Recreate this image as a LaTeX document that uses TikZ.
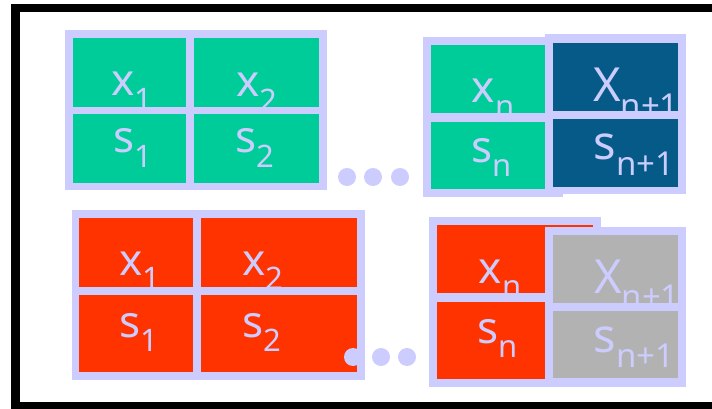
\documentclass[tikz,border=0pt]{standalone}
\usepackage{fontspec}
\setmainfont{Noto Sans}
\definecolor{lav}{RGB}{204,204,255}
\definecolor{grn}{RGB}{0,204,153}
\definecolor{blu}{RGB}{6,90,135}
\definecolor{rd}{RGB}{255,51,0}
\definecolor{gry}{RGB}{178,178,178}
\newcommand\sbs[1]{\raisebox{-0.32em}{\fontsize{31}{31}\selectfont #1}}
\newcommand\sbsb[1]{\raisebox{-0.32em}{\fontsize{33}{33}\selectfont #1}}
\tikzset{
  lbl/.style={text=lav, font=\fontsize{44}{44}\selectfont, inner sep=0pt, anchor=base},
  lblbig/.style={lbl, font=\fontsize{47}{47}\selectfont},
  dotc/.style={fill=lav},
}
\begin{document}
\begin{tikzpicture}[x=1pt,y=-1pt]
\useasboundingbox (0,0) rectangle (712,409);
\fill[white] (0,0) rectangle (712,409);
% frame
\draw[line width=8.5pt] (15.5,8) rectangle (740,406);

% ---------- top-left (green) ----------
\fill[lav] (65,30) rectangle (327,190);
\fill[grn] (73,38) rectangle (186,107);
\fill[grn] (194,38) rectangle (319,107);
\fill[grn] (73,114) rectangle (186,183);
\fill[grn] (194,114) rectangle (319,183);
\node[lbl] (tlx1) at (132,96) {x\sbs{1}};
\node[lbl] (tlx2) at (257,97) {x\sbs{2}};
\node[lbl] (tls1) at (133,153) {s\sbs{1}};
\node[lbl] (tls2) at (255,153) {s\sbs{2}};
\fill[lav] (65,107) rectangle (327,114);

% top dots
\fill[dotc] (347,177) circle[radius=9pt];
\fill[dotc] (373,177) circle[radius=9pt];
\fill[dotc] (400,177) circle[radius=9pt];

% ---------- top-right ----------
\fill[lav] (423,37) rectangle (563,197);
\fill[grn] (431,45) rectangle (555,113);
\fill[grn] (431,122) rectangle (555,189);
\node[lbl] (trxn) at (493,103) {x\sbs{n}};
\node[lbl] (trsn) at (492,162) {s\sbs{n}};
\fill[lav] (423,113) rectangle (545,122);

\fill[lav] (545,34) rectangle (686,194);
\fill[blu] (553,43) rectangle (678,111);
\fill[blu] (553,119) rectangle (678,187);
\node[lblbig] (trxn1) at (636,102) {X\sbsb{n+1}};
\node[lblbig] (trsn1) at (634,160) {s\sbsb{n+1}};
\fill[lav] (545,111) rectangle (686,119);

% ---------- bottom-left (red) ----------
\fill[lav] (72,210) rectangle (365,380);
\fill[rd] (79,218) rectangle (193,287);
\fill[rd] (201,218) rectangle (357,287);
\fill[rd] (79,295) rectangle (193,372);
\fill[rd] (201,295) rectangle (357,372);
\node[lbl] (blx1) at (140,275) {x\sbs{1}};
\node[lbl] (blx2) at (263,275) {x\sbs{2}};
\node[lbl] (bls1) at (139,337) {s\sbs{1}};
\node[lbl] (bls2) at (262,337) {s\sbs{2}};
\fill[lav] (72,287) rectangle (365,295);

% bottom dots
\fill[dotc] (353,357) circle[radius=9pt];
\fill[dotc] (381,357) circle[radius=9pt];
\fill[dotc] (407,357) circle[radius=9pt];

% ---------- bottom-right ----------
\fill[lav] (429,217) rectangle (601,387);
\fill[rd] (437,225) rectangle (593,293);
\fill[rd] (437,302) rectangle (593,379);
\node[lbl] (brxn) at (500,283) {x\sbs{n}};
\node[lbl] (brsn) at (498,343) {s\sbs{n}};
\fill[lav] (429,293) rectangle (545,302);

\fill[lav] (545,227) rectangle (686,387);
\fill[gry] (553,235) rectangle (678,303);
\fill[gry] (553,311) rectangle (678,378);
\node[lblbig] (brxn1) at (637,293) {X\sbsb{n+1}};
\node[lblbig] (brsn1) at (634,352) {s\sbsb{n+1}};
\fill[lav] (545,303) rectangle (686,311);
\end{tikzpicture}
\end{document}
